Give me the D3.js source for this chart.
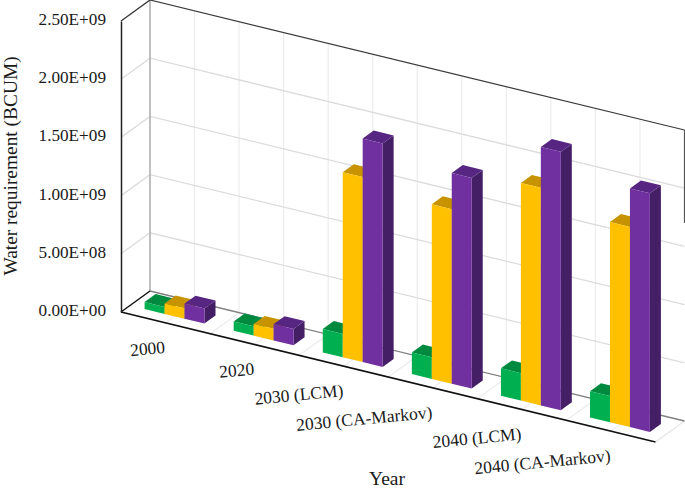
<!DOCTYPE html>
<html>
<head>
<meta charset="utf-8">
<script src="https://cdn.jsdelivr.net/npm/d3@7"></script>
<style>
  html, body { margin: 0; padding: 0; background: #fff; }
  svg { display: block; }
  text { font-family: "Liberation Serif", serif; fill: #1a1a1a; }
</style>
</head>
<body>
<div id="chart"></div>
<script>
// chart values
const categories = ["2000", "2020", "2030 (LCM)", "2030 (CA-Markov)", "2040 (LCM)", "2040 (CA-Markov)"];
const greenValues = [6e7, 8e7, 2.0e8, 1.85e8, 2.35e8, 2.25e8];
const yellowValues = [9e7, 1.0e8, 1.59e9, 1.5e9, 1.87e9, 1.72e9];
const purpleValues = [1.3e8, 1.4e8, 1.92e9, 1.81e9, 2.22e9, 2.05e9];
const yTicks = [0, 5e8, 1e9, 1.5e9, 2e9, 2.5e9];
const yTickLabels = ["0.00E+00", "5.00E+08", "1.00E+09", "1.50E+09", "2.00E+09", "2.50E+09"];

const series = [
	{ name: "a", values: greenValues, front: "#00b050", top: "#008a3f", side: "#006f33" },
	{ name: "b", values: yellowValues, front: "#ffc000", top: "#c79400", side: "#9c7500" },
	{ name: "c", values: purpleValues, front: "#7030a0", top: "#572683", side: "#451f66" }
];

const width = 685, height = 491;

// the plot box is an oblique projection: along the category axis, into the depth, and up
const alongX = d3.scaleLinear().domain([0, 1]).range([121, 655.5]);
const alongY = d3.scaleLinear().domain([0, 1]).range([312, 442]);
const depthX = d3.scaleLinear().domain([0, 1]).range([0, 29]);
const depthY = d3.scaleLinear().domain([0, 1]).range([0, -21]);
const valueY = d3.scaleLinear().domain([0, 2.5e9]).range([0, -291]);

const x0 = d3.scaleBand().domain(categories).range([0, 1]);
const x1 = d3.scaleBand().domain(series.map(s => s.name)).range([0.164, 0.836]);
const barDepth = [0.31, 0.69];

// category position u (0-1), depth d (0-1), value v -> pixel
function project(u, d, v) {
	return [alongX(u) + depthX(d), alongY(u) + depthY(d) + valueY(v)];
}
const line = d3.line();
const poly = pts => line(pts) + "Z";

const svg = d3.select("#chart").append("svg")
	.attr("width", width)
	.attr("height", height);

// grid lines, every half category
const halfSteps = [];
categories.forEach(c => {
	halfSteps.push(x0(c));
	halfSteps.push(x0(c) + x0.bandwidth() / 2);
});
halfSteps.push(1);

const grid = svg.append("g").attr("fill", "none");

grid.selectAll(".wallV")
	.data(halfSteps.slice(1, -1))
	.enter().append("path")
	.attr("class", "wallV")
	.attr("stroke", "#ececec")
	.attr("stroke-width", 1.2)
	.attr("d", u => line([project(u, 0, 0), project(u, 1, 0), project(u, 1, 2.5e9)]));

grid.selectAll(".wallH")
	.data(yTicks.slice(1, -1))
	.enter().append("path")
	.attr("class", "wallH")
	.attr("stroke", "#dcdcdc")
	.attr("stroke-width", 1.3)
	.attr("d", v => line([project(0, 0, v), project(0, 1, v), project(1, 1, v)]));

// box edges
const edges = [
	{ d: [project(1, 0, 0), project(1, 1, 0)], c: "#e4e4e4", w: 1.2 },
	{ d: [project(0, 1, 0), project(0, 1, 2.5e9)], c: "#b0b0b0", w: 1.6 },
	{ d: [project(0, 1, 0), project(1, 1, 0)], c: "#808080", w: 1.3 },
	{ d: [project(0, 1, 2.5e9), project(1, 1, 2.5e9)], c: "#3a3a3a", w: 1.2 },
	{ d: [project(0, 0, 2.5e9), project(0, 1, 2.5e9)], c: "#333", w: 1.3 },
	{ d: [project(0, 0, 0), project(0, 1, 0)], c: "#111", w: 1.5 },
	{ d: [project(1, 1, 1.7e9), project(1, 1, 2.5e9)], c: "#555", w: 1.2 },
	{ d: [project(0, 0, 0), project(1, 0, 0)], c: "#111", w: 1.6 }
];
svg.append("g").attr("fill", "none")
	.selectAll("path")
	.data(edges)
	.enter().append("path")
	.attr("d", e => line(e.d))
	.attr("stroke", e => e.c)
	.attr("stroke-width", e => e.w);

// bars, left to right so the nearer faces cover the others
const bars = svg.append("g");
categories.forEach((c, i) => {
	series.forEach(s => {
		const u0 = x0(c) + x1(s.name) * x0.bandwidth();
		const u1 = u0 + x1.bandwidth() * x0.bandwidth();
		const [d0, d1] = barDepth;
		const v = s.values[i];
		const g = bars.append("g");
		g.append("path").attr("fill", s.side)
			.attr("d", poly([project(u1, d0, 0), project(u1, d1, 0), project(u1, d1, v), project(u1, d0, v)]));
		g.append("path").attr("fill", s.top)
			.attr("d", poly([project(u0, d0, v), project(u1, d0, v), project(u1, d1, v), project(u0, d1, v)]));
		g.append("path").attr("fill", s.front)
			.attr("d", poly([project(u0, d0, 0), project(u1, d0, 0), project(u1, d0, v), project(u0, d0, v)]));
	});
});

// value axis
const yAxisScale = d3.scaleLinear().domain([0, 2.5e9]).range([alongY(0), alongY(0) + valueY(2.5e9)]);
const yAxis = d3.axisLeft(yAxisScale)
	.tickValues(yTicks)
	.tickSize(0)
	.tickPadding(15)
	.tickFormat((d, i) => yTickLabels[i]);
const yG = svg.append("g")
	.attr("transform", "translate(" + alongX(0) + ",0)")
	.call(yAxis);
yG.select(".domain").attr("stroke", "#222").attr("stroke-width", 1.5);
yG.selectAll("text")
	.style("font-family", '"Liberation Serif", serif')
	.style("font-size", "17.2px")
	.attr("fill", "#1a1a1a")
	.attr("dy", "0.2em");

// category labels, tilted a little
svg.append("g").selectAll("text")
	.data(categories)
	.enter().append("text")
	.attr("text-anchor", "end")
	.attr("font-size", "17.5px")
	.attr("transform", c => {
		const u = x0(c) + x0.bandwidth() / 2;
		return "translate(" + alongX(u) + "," + (alongY(u) + 30) + ") rotate(-5.5)";
	})
	.text(c => c);

// axis titles
svg.append("text")
	.attr("transform", "translate(17,166) rotate(-90)")
	.attr("text-anchor", "middle")
	.attr("font-size", "19.4px")
	.text("Water requirement (BCUM)");

svg.append("text")
	.attr("x", 387)
	.attr("y", 485)
	.attr("text-anchor", "middle")
	.attr("font-size", "19.5px")
	.text("Year");
</script>
</body>
</html>
